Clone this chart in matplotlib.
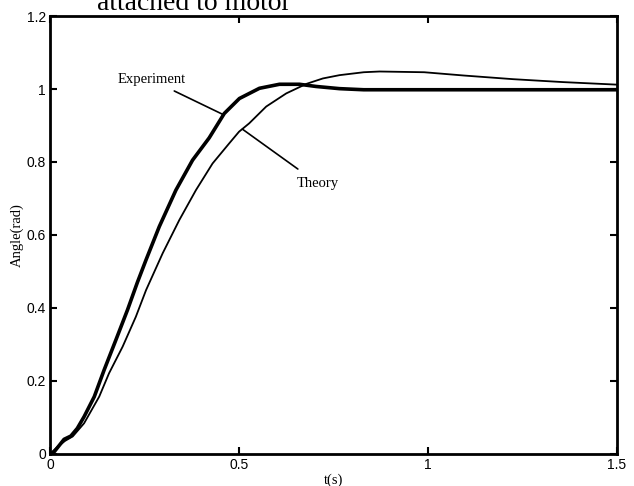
import matplotlib
matplotlib.use("Agg")
import matplotlib.pyplot as plt

# Experiment (thick curve)
t_exp = [0.0, 0.011, 0.037, 0.055, 0.072, 0.09, 0.117, 0.143, 0.174, 0.205, 0.231, 0.254,
         0.289, 0.333, 0.377, 0.421, 0.461, 0.501, 0.554, 0.607, 0.66, 0.704, 0.766,
         0.83, 1.0, 1.2, 1.5]
v_exp = [0.0, 0.006, 0.04, 0.049, 0.07, 0.102, 0.157, 0.23, 0.312, 0.395, 0.47, 0.532,
         0.623, 0.723, 0.805, 0.866, 0.933, 0.974, 1.002, 1.013, 1.013, 1.007, 1.001,
         0.998, 0.998, 0.998, 0.998]

# Theory (thin curve)
t_th = [0.0, 0.02, 0.04, 0.06, 0.09, 0.13, 0.156, 0.192, 0.227, 0.254, 0.298, 0.342,
        0.386, 0.43, 0.474, 0.5, 0.527, 0.572, 0.625, 0.678, 0.722, 0.766, 0.83, 0.872,
        0.99, 1.095, 1.225, 1.357, 1.5]
v_th = [0.0, 0.02, 0.036, 0.048, 0.084, 0.157, 0.221, 0.294, 0.376, 0.449, 0.55, 0.641,
        0.723, 0.796, 0.851, 0.883, 0.906, 0.952, 0.988, 1.014, 1.029, 1.038, 1.046, 1.048,
        1.046, 1.037, 1.027, 1.019, 1.012]

x_ticks = [0, 0.5, 1, 1.5]
x_ticklabels = ["0", "0.5", "1", "1.5"]
y_ticks = [0, 0.2, 0.4, 0.6, 0.8, 1, 1.2]
y_ticklabels = ["0", "0.2", "0.4", "0.6", "0.8", "1", "1.2"]

fig = plt.figure(figsize=(6.34, 4.86), dpi=100)
ax = fig.add_axes([0.079, 0.066, 0.894, 0.901])

ax.plot(t_exp, v_exp, color="black", lw=2.6, solid_joinstyle="round")
ax.plot(t_th, v_th, color="black", lw=1.3, solid_joinstyle="round")

ax.set_xlim(0, 1.5)
ax.set_ylim(0, 1.2)
ax.set_xticks(x_ticks)
ax.set_xticklabels(x_ticklabels)
ax.set_yticks(y_ticks)
ax.set_yticklabels(y_ticklabels)
ax.tick_params(direction="in", length=5, width=1.5, top=True, right=True,
               labelsize=10, pad=3)
for lab in ax.get_xticklabels() + ax.get_yticklabels():
    lab.set_family("Liberation Sans")
for s in ax.spines.values():
    s.set_linewidth(2.0)

ax.set_xlabel("t(s)", family="Liberation Serif", fontsize=10.5, labelpad=1)
ax.set_ylabel("Angle(rad)", family="Liberation Serif", fontsize=10.5, labelpad=2)

ax.annotate("Experiment", xy=(0.458, 0.93), xytext=(0.358, 1.025),
            ha="right", va="center", family="Liberation Serif", fontsize=10.5,
            arrowprops=dict(arrowstyle="-", color="black", lw=1.2, shrinkA=3, shrinkB=0))
ax.annotate("Theory", xy=(0.509, 0.89), xytext=(0.652, 0.742),
            ha="left", va="center", family="Liberation Serif", fontsize=10.5,
            arrowprops=dict(arrowstyle="-", color="black", lw=1.2, shrinkA=6, shrinkB=0))

fig.text(0.153, 1 - 10 / 486, "attached to motor", ha="left", va="baseline",
         family="Liberation Serif", fontsize=20)

fig.savefig("out.png", dpi=100)
